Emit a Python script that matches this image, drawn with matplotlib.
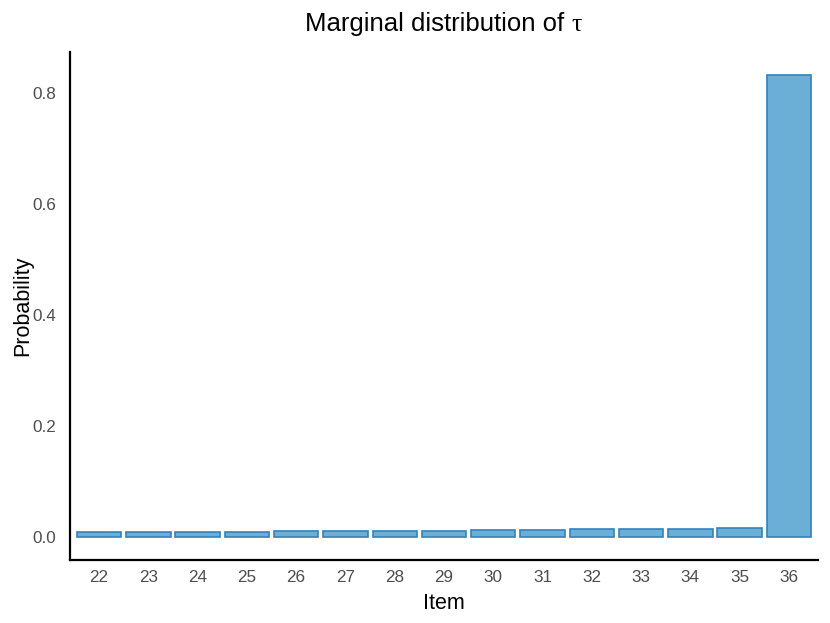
import numpy as np
import matplotlib.pyplot as plt

plt.rcParams['font.family'] = ['Liberation Sans', 'DejaVu Sans']

# data
items = ['22', '23', '24', '25', '26', '27', '28', '29', '30', '31', '32', '33', '34', '35', '36']
prob = [0.009, 0.0095, 0.0098, 0.010, 0.0105, 0.011, 0.0115, 0.012, 0.0125,
        0.013, 0.014, 0.0145, 0.0155, 0.017, 0.832]

fig = plt.figure(figsize=(8.3, 6.23), dpi=100)
ax = fig.add_axes([70 / 830, 1 - 560 / 623, 748 / 830, 508 / 623])

x = np.arange(len(items))
ax.bar(x, prob, width=0.9, color='#6BAED6', edgecolor='#3182BD', linewidth=1.2)

ax.set_xlim(-0.59, len(items) - 1 + 0.59)
ax.set_ylim(-0.041, 0.874)
ax.set_xticks(x)
ax.set_xticklabels(items)
ax.set_yticks([0.0, 0.2, 0.4, 0.6, 0.8])
ax.set_yticklabels(['0.0', '0.2', '0.4', '0.6', '0.8'])

for s in ['top', 'right']:
    ax.spines[s].set_visible(False)
for s in ['left', 'bottom']:
    ax.spines[s].set_linewidth(1.6)
    ax.spines[s].set_color('black')

ax.tick_params(axis='both', length=0, labelsize=12.3, colors='#4D4D4D')
ax.tick_params(axis='y', pad=10)
ax.tick_params(axis='x', pad=7)

ax.set_xlabel('Item', fontsize=15.5, labelpad=6)
ax.set_ylabel('Probability', fontsize=15.5, labelpad=-1)

# title: sans text plus a serif tau appended to its right
ttl = ax.set_title('Marginal distribution of ', fontsize=18.5, pad=15, x=0.492)
ax.annotate('τ', xy=(1, 0), xycoords=ttl, fontsize=18.5,
            family='Liberation Serif', ha='left', va='bottom')

plt.savefig('out.png', dpi=100)
